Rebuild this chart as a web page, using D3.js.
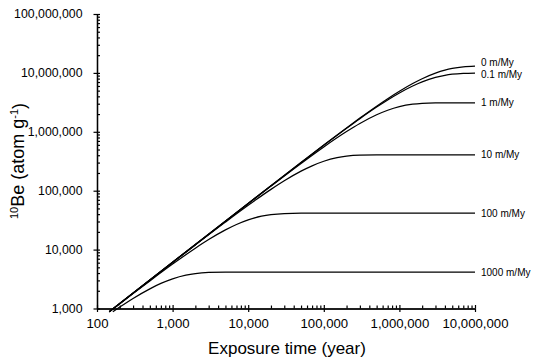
<!DOCTYPE html>
<html>
<head>
<meta charset="utf-8">
<script src="https://cdn.jsdelivr.net/npm/d3@7/dist/d3.min.js"></script>
<style>
  html, body { margin: 0; padding: 0; background: #fff; }
  svg { display: block; font-family: "Liberation Sans", Arial, Helvetica, sans-serif; }
  .curve { fill: none; stroke: #000; stroke-width: 1.25; }
  .axis path, .axis line { stroke: #000; stroke-width: 1.2; }
</style>
</head>
<body>
<svg id="be-chart" width="540" height="363"></svg>
<script>
// erosion-rate labels, one per curve, top to bottom
const erosionLabels = ["0 m/My", "0.1 m/My", "1 m/My", "10 m/My", "100 m/My", "1000 m/My"];

// [exposure time (yr), 10Be (atom/g)]
const noErosion = [
  [145, 885], [1000, 6100], [1e4, 60860], [5e4, 301500], [1e5, 596100],
  [2e5, 1.165e6], [3e5, 1.709e6], [5e5, 2.724e6], [7e5, 3.649e6], [1e6, 4.886e6],
  [1.5e6, 6.602e6], [2e6, 7.964e6], [3e6, 9.903e6], [4e6, 1.1122e7],
  [5e6, 1.189e7], [7e6, 1.268e7], [1e7, 1.307e7],
];
const erosion01 = [
  [145, 885], [1000, 6100], [1e4, 60810], [5e4, 300400], [1e5, 591700],
  [2e5, 1.148e6], [3e5, 1.672e6], [5e5, 2.627e6], [7e5, 3.473e6], [1e6, 4.562e6],
  [1.5e6, 5.987e6], [2e6, 7.036e6], [3e6, 8.377e6], [4e6, 9.105e6],
  [5e6, 9.5e6], [7e6, 9.83e6], [1e7, 9.945e6],
];
const erosion1 = [
  [145, 884], [1000, 6094], [1e4, 60400], [2e4, 119640], [5e4, 290500],
  [1e5, 553900], [2e5, 1.009e6], [3e5, 1.383e6], [5e5, 1.9435e6], [7e5, 2.322e6],
  [1e6, 2.672e6], [1.5e6, 2.945e6], [2e6, 3.048e6], [3e6, 3.1e6],
  [5e6, 3.109e6], [1e7, 3.109e6],
];
const erosion10 = [
  [145, 884], [1000, 6055], [2000, 12019], [5000, 29390], [1e4, 56650],
  [2e4, 105400], [3e4, 147400], [5e4, 214600], [7e4, 264400], [1e5, 315950],
  [1.5e5, 363800], [2e5, 386450], [3e5, 402200], [5e5, 406500],
  [1e6, 406700], [1e7, 406700],
];
const erosion100 = [
  [145, 875], [300, 1790], [500, 2940], [1000, 5673], [2000, 10570],
  [3000, 14799], [5000, 21599], [7000, 26668], [1e4, 31956], [1.5e4, 36922],
  [2e4, 39303], [3e4, 40993], [5e4, 41470], [1e5, 41497], [1e7, 41497],
];
const erosion1000 = [
  [162, 879], [200, 1056], [300, 1479], [500, 2158], [700, 2664],
  [1000, 3191], [1500, 3686], [2000, 3923], [3000, 4090], [5000, 4139],
  [1e4, 4141], [1e7, 4141],
];

const xMajorTicks = [100, 1e3, 1e4, 1e5, 1e6, 1e7];
const yMajorTicks = [1e3, 1e4, 1e5, 1e6, 1e7, 1e8];

(function beChart() {
  const svg = d3.select("#be-chart");
  const curves = [noErosion, erosion01, erosion1, erosion10, erosion100, erosion1000];

  const xScale = d3.scaleLog().domain([100, 1e7]).range([97, 475]);
  const yScale = d3.scaleLog().domain([1e3, 1e8]).range([308.5, 14]);

  function minorTicks(majors) {
    const out = [];
    for (let i = 0; i < majors.length - 1; i += 1) {
      for (let m = 2; m <= 9; m += 1) {
        out.push(majors[i] * m);
      }
    }
    return out;
  }

  const fmt = d3.format(",");

  // x axis: major ticks cross the line, minor ticks point inward
  const xAxisG = svg.append("g").attr("class", "axis").attr("transform", `translate(0,${yScale(1e3)})`);
  xAxisG.append("g").call(
    d3.axisBottom(xScale).tickValues(xMajorTicks).tickSize(3.5).tickSizeOuter(0).tickPadding(7).tickFormat(fmt),
  );
  xAxisG.append("g").call(d3.axisTop(xScale).tickValues(xMajorTicks).tickSize(3.5).tickSizeOuter(0).tickFormat(""));
  xAxisG.append("g").call(d3.axisTop(xScale).tickValues(minorTicks(xMajorTicks)).tickSize(3).tickSizeOuter(0).tickFormat(""));

  const yAxisG = svg.append("g").attr("class", "axis").attr("transform", `translate(${xScale(100)},0)`);
  yAxisG.append("g").call(
    d3.axisLeft(yScale).tickValues(yMajorTicks).tickSize(3.5).tickSizeOuter(0).tickPadding(11).tickFormat(fmt),
  );
  yAxisG.append("g").call(d3.axisRight(yScale).tickValues(yMajorTicks).tickSize(3).tickSizeOuter(0).tickFormat(""));
  yAxisG.append("g").call(d3.axisRight(yScale).tickValues(minorTicks(yMajorTicks)).tickSize(3).tickSizeOuter(0).tickFormat(""));

  svg.selectAll(".axis g").attr("font-family", null).attr("font-size", null);
  xAxisG.selectAll("text").attr("font-size", 13.2).attr("fill", "#000");
  yAxisG.selectAll("text").attr("font-size", 12.3).attr("fill", "#000");

  const line = d3
    .line()
    .x((d) => xScale(d[0]))
    .y((d) => yScale(d[1]))
    .curve(d3.curveMonotoneX);

  svg
    .append("g")
    .selectAll("path")
    .data(curves)
    .join("path")
    .attr("class", "curve")
    .attr("d", line);

  // the two top labels sit close together, pull them apart a little
  svg
    .append("g")
    .selectAll("text")
    .data(curves)
    .join("text")
    .attr("x", (d) => xScale(d[d.length - 1][0]) + 6)
    .attr("y", (d, i) => yScale(d[d.length - 1][1]) + (i === 0 ? -4 : i === 1 ? 1 : 0))
    .attr("dy", "0.35em")
    .attr("font-size", 10)
    .text((d, i) => erosionLabels[i]);

  svg
    .append("text")
    .attr("x", 287)
    .attr("y", 354)
    .attr("text-anchor", "middle")
    .attr("font-size", 17)
    .text("Exposure time (year)");

  const yTitle = svg
    .append("text")
    .attr("transform", "translate(24,161) rotate(-90)")
    .attr("text-anchor", "middle")
    .attr("font-size", 18);
  yTitle.append("tspan").attr("font-size", 11).attr("dy", "-0.55em").text("10");
  yTitle.append("tspan").attr("dy", "0.35em").text("Be (atom g");
  yTitle.append("tspan").attr("font-size", 11).attr("dy", "-0.55em").text("-1");
  yTitle.append("tspan").attr("dy", "0.35em").text(")");
})();
</script>
</body>
</html>
